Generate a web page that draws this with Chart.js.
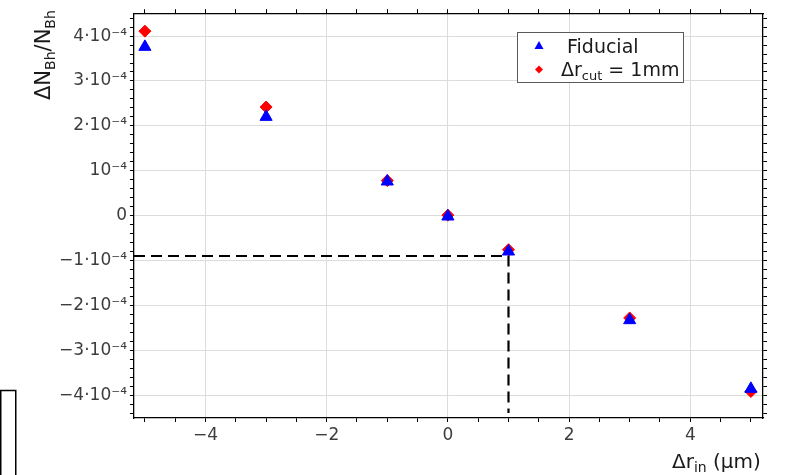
<!DOCTYPE html>
<html>
<head>
<meta charset="utf-8">
<script src="https://cdn.jsdelivr.net/npm/chart.js@4/dist/chart.umd.min.js"></script>
<style>
  html, body { margin: 0; padding: 0; background: #ffffff; }
  #wrap { width: 785px; height: 475px; position: relative; }
</style>
</head>
<body>
<div id="wrap"><canvas id="c" width="785" height="475"></canvas></div>
<script>
// Inner-radius shift Δr_in (μm)
const shifts = [-5, -3, -1, 0, 1, 3, 5];
// Relative change of N_Bh, fiducial selection
const fiducial = [3.76e-4, 2.20e-4, 0.76e-4, -0.02e-4, -0.80e-4, -2.33e-4, -3.86e-4];
// Relative change of N_Bh with Δr_cut = 1 mm
const cut1mm = [4.11e-4, 2.42e-4, 0.78e-4, 0.01e-4, -0.76e-4, -2.28e-4, -3.92e-4];
// Dashed guide marking the 1 μm shift
const guideX = [-5.18, 1, 1];
const guideY = [-0.9e-4, -0.9e-4, -4.4e-4];

const xRange = [-5.18, 5.2];
const yRange = [-4.51e-4, 4.51e-4];

const FONT = "'DejaVu Sans', 'Noto Sans', sans-serif";

function toPoints(xs, ys) { return xs.map((x, i) => ({ x: x, y: ys[i] })); }

function yLabel(v) {
  const k = Math.round(v / 1e-5);
  if (k % 10 !== 0) return '';
  const m = k / 10;
  if (m === 0) return '0';
  const exp = '\u207B\u2074';
  if (m === 1) return '10' + exp;
  const mant = (m < 0 ? '\u2212' : '') + Math.abs(m);
  return mant + '\u00B710' + exp;
}
function xLabel(v) {
  const k = Math.round(v * 2);
  if (k % 4 !== 0) return '';
  const m = k / 2;
  return (m < 0 ? '\u2212' : '') + Math.abs(m);
}
const isMajorX = v => Math.round(v * 2) % 4 === 0;
const isMajorY = v => Math.round(v / 1e-5) % 10 === 0;

// text with subscript pieces: [[text, size, shift], ...]
function drawRich(ctx, parts, x, y) {
  let cx = x;
  for (const [t, size, shift] of parts) {
    ctx.font = size + 'px ' + FONT;
    ctx.fillText(t, cx, y + shift);
    cx += ctx.measureText(t).width;
  }
  return cx;
}

const decorations = {
  id: 'decorations',
  afterDraw(chart) {
    const ctx = chart.ctx;
    ctx.save();
    ctx.fillStyle = '#1a1a1a';
    ctx.textBaseline = 'alphabetic';
    ctx.textAlign = 'left';

    // y-axis title, rotated
    ctx.save();
    ctx.translate(50, 100);
    ctx.rotate(-Math.PI / 2);
    drawRich(ctx, [['\u0394N', 21, 0], ['Bh', 14, 5], ['/N', 21, 0], ['Bh', 14, 5]], 0, 0);
    ctx.restore();

    // x-axis title
    drawRich(ctx, [['\u0394r', 20, 0], ['in', 14, 4], [' (\u03BCm)', 20, 0]], 672, 468);

    // legend
    const lx = 517.5, ly = 32.5, lw = 166, lh = 50;
    ctx.fillStyle = '#ffffff';
    ctx.fillRect(lx, ly, lw, lh);
    ctx.strokeStyle = '#5a5a5a';
    ctx.lineWidth = 1;
    ctx.strokeRect(lx, ly, lw, lh);

    ctx.fillStyle = '#0000ff';
    ctx.beginPath();
    ctx.moveTo(539, 41);
    ctx.lineTo(543.5, 49);
    ctx.lineTo(534.5, 49);
    ctx.closePath();
    ctx.fill();

    ctx.fillStyle = '#ff0000';
    ctx.beginPath();
    ctx.moveTo(539, 65.5);
    ctx.lineTo(543, 69.5);
    ctx.lineTo(539, 73.5);
    ctx.lineTo(535, 69.5);
    ctx.closePath();
    ctx.fill();

    ctx.fillStyle = '#1a1a1a';
    drawRich(ctx, [['Fiducial', 19, 0]], 567, 53);
    drawRich(ctx, [['\u0394r', 19, 0], ['cut', 13, 4], [' = 1mm', 19, 0]], 561, 76);

    // small frame at the lower-left edge
    ctx.strokeStyle = '#000000';
    ctx.lineWidth = 1.5;
    ctx.strokeRect(0.75, 390.5, 15, 100);
    ctx.restore();
  }
};

const axisBorder = { display: true, color: '#000000', width: 1.3 };

new Chart(document.getElementById('c'), {
  type: 'scatter',
  data: {
    datasets: [
      {
        label: 'Fiducial',
        data: toPoints(shifts, fiducial),
        pointStyle: 'triangle',
        pointRadius: 7,
        pointHoverRadius: 7,
        backgroundColor: '#0000ff',
        borderColor: '#0000ff',
        borderWidth: 1,
        order: 1
      },
      {
        label: '\u0394r_cut = 1mm',
        data: toPoints(shifts, cut1mm),
        pointStyle: 'rectRot',
        pointRadius: 6,
        pointHoverRadius: 6,
        backgroundColor: '#ff0000',
        borderColor: '#ff0000',
        borderWidth: 1,
        order: 2
      },
      {
        label: 'guide',
        data: toPoints(guideX, guideY),
        showLine: true,
        borderColor: '#000000',
        borderWidth: 2.2,
        borderDash: [11, 6],
        pointRadius: 0,
        pointHoverRadius: 0,
        fill: false,
        order: 3
      }
    ]
  },
  options: {
    responsive: false,
    animation: false,
    events: [],
    layout: { padding: 0 },
    plugins: { legend: { display: false }, tooltip: { enabled: false } },
    scales: {
      x: {
        type: 'linear', position: 'bottom',
        min: xRange[0], max: xRange[1],
        border: axisBorder,
        grid: {
          color: c => isMajorX(c.tick.value) ? '#dcdcdc' : 'rgba(0,0,0,0)',
          tickColor: '#000000', tickLength: 4, lineWidth: 1
        },
        ticks: {
          stepSize: 0.5, includeBounds: false, autoSkip: false, maxRotation: 0,
          callback: v => xLabel(v), color: '#3c3c3c', padding: 3,
          font: { family: FONT, size: 17 }
        },
        afterFit: s => { s.height = 57; }
      },
      x2: {
        type: 'linear', position: 'top',
        min: xRange[0], max: xRange[1],
        border: axisBorder,
        grid: { drawOnChartArea: false, tickColor: '#000000', tickLength: 4 },
        ticks: { stepSize: 0.5, includeBounds: false, autoSkip: false, callback: () => '' },
        afterFit: s => { s.height = 11; }
      },
      y: {
        type: 'linear', position: 'left',
        min: yRange[0], max: yRange[1],
        border: axisBorder,
        grid: {
          color: c => isMajorY(c.tick.value) ? '#dcdcdc' : 'rgba(0,0,0,0)',
          tickColor: '#000000', tickLength: 4, lineWidth: 1
        },
        ticks: {
          stepSize: 2e-5, includeBounds: false, autoSkip: false,
          callback: v => yLabel(v), color: '#3c3c3c', padding: 3,
          font: { family: FONT, size: 17 }
        },
        afterFit: s => { s.width = 134; }
      },
      y2: {
        type: 'linear', position: 'right',
        min: yRange[0], max: yRange[1],
        border: axisBorder,
        grid: { drawOnChartArea: false, tickColor: '#000000', tickLength: 4 },
        ticks: { stepSize: 2e-5, includeBounds: false, autoSkip: false, callback: () => '' },
        afterFit: s => { s.width = 22; }
      }
    }
  },
  plugins: [decorations]
});
</script>
</body>
</html>
